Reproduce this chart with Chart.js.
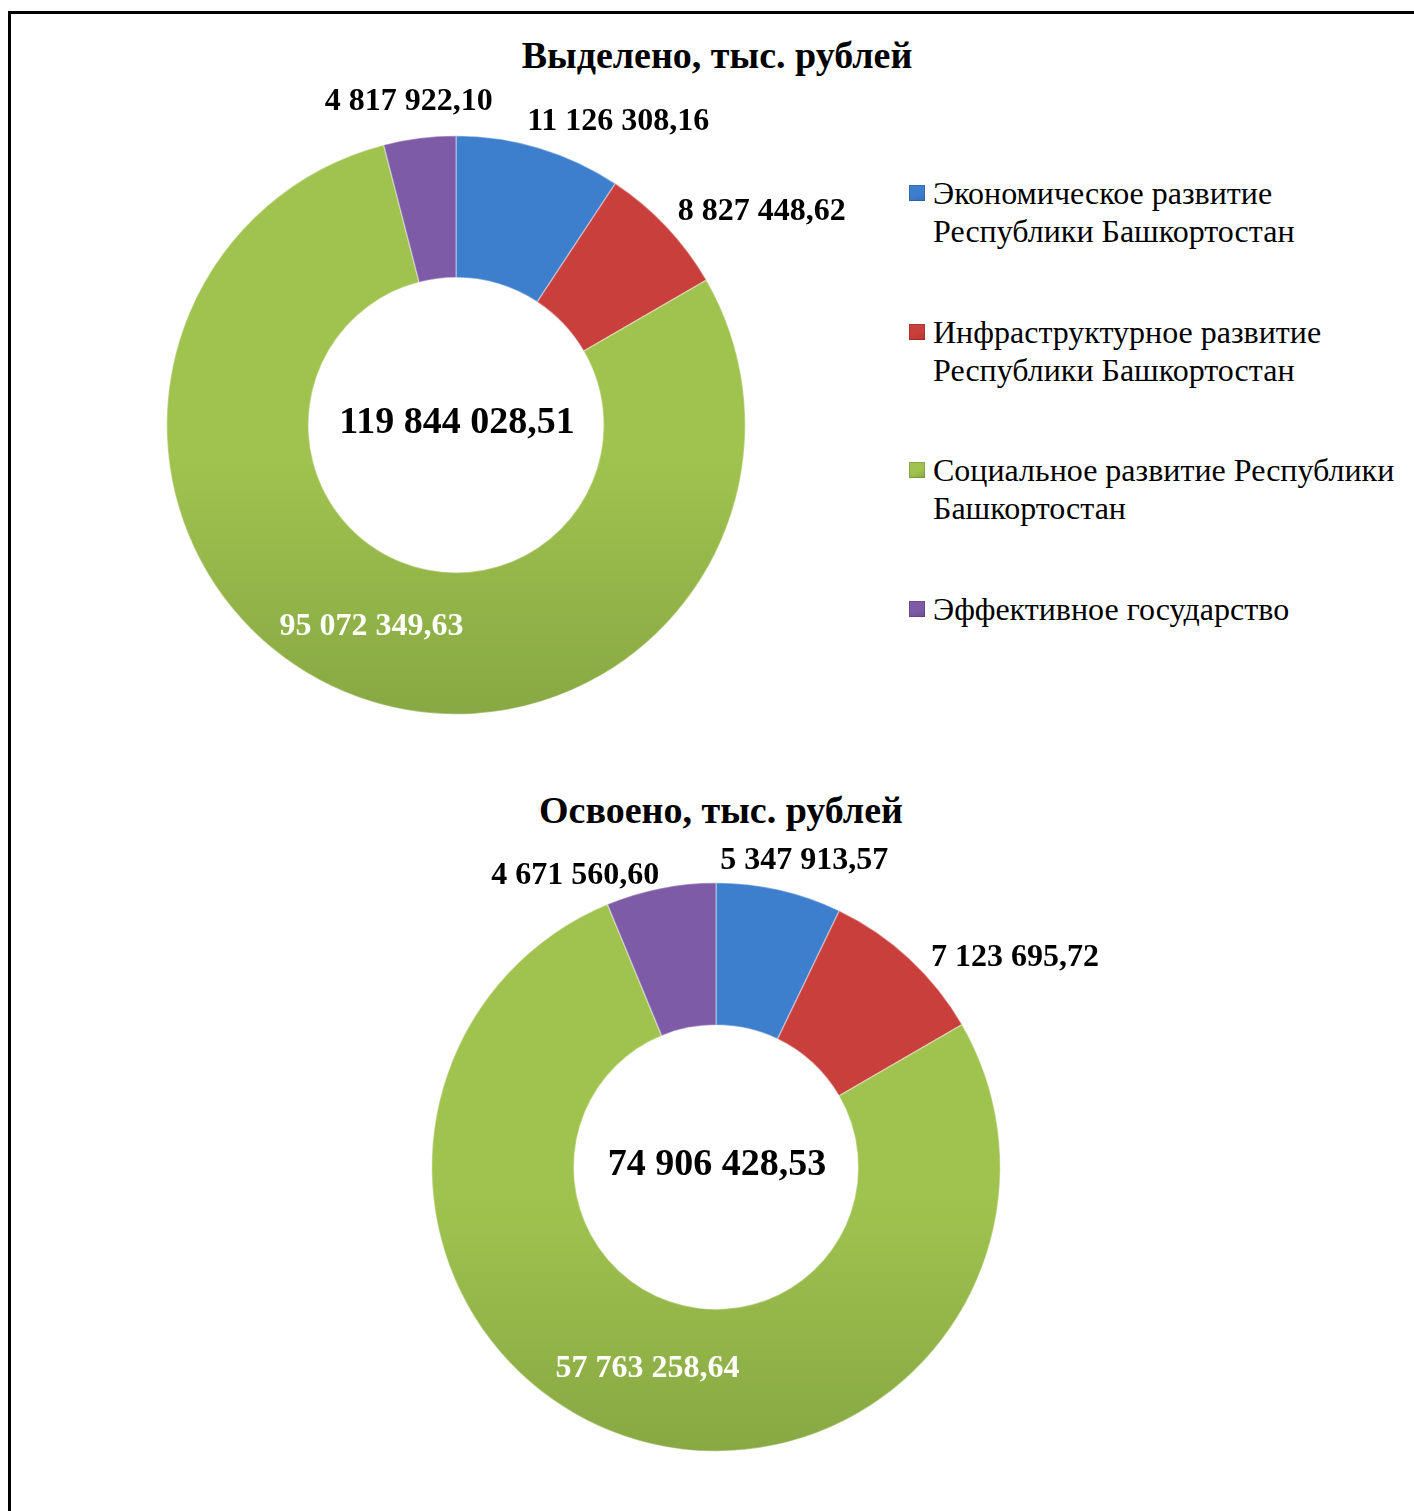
<!DOCTYPE html>
<html>
<head>
<meta charset="utf-8">
<script src="https://cdn.jsdelivr.net/npm/chart.js@4/dist/chart.umd.min.js"></script>
<style>
  html, body { margin: 0; padding: 0; background: #fff; overflow: hidden; }
  body { width: 1414px; height: 1511px; position: relative; font-family: 'Liberation Serif', 'Times New Roman', serif; }
  .frame { position: absolute; left: 8px; top: 11px; width: 1500px; height: 1600px; border: 3px solid #000; }
  .title { position: absolute; width: 600px; text-align: center; font-weight: bold; font-size: 38px; line-height: 40px; color: #000; }
  canvas { position: absolute; }
  .legend { position: absolute; left: 908px; top: 0; width: 506px; }
  .legend-item { position: absolute; left: 0; width: 506px; font-size: 32px; line-height: 38px; color: #000; }
  .legend-item .box { position: absolute; left: 1px; top: 11px; width: 16px; height: 16px; }
  .legend-item .txt { position: absolute; left: 25px; top: 0; width: 478px; }
</style>
</head>
<body>
<div class="frame"></div>
<div class="title" style="left:417px; top:35px;">Выделено, тыс. рублей</div>
<div class="title" style="left:421px; top:790px;">Освоено, тыс. рублей</div>
<canvas id="chart-allocated" width="890" height="730" style="left:10px; top:13px;"></canvas>
<canvas id="chart-spent" width="1150" height="740" style="left:10px; top:760px;"></canvas>
<div class="legend" id="legend"></div>

<script>
// ---- data ----
const categories = [
  'Экономическое развитие Республики Башкортостан',
  'Инфраструктурное развитие Республики Башкортостан',
  'Социальное развитие Республики Башкортостан',
  'Эффективное государство'
];
const allocated = [11126308.16, 8827448.62, 95072349.63, 4817922.10];
const spent = [5347913.57, 7123695.72, 57763258.64, 4671560.60];

// ---- styling ----
const sliceColors = ['#3d7fcd', '#c93f3b', '#a0c34f', '#7e5ba6'];
const sliceColorsDark = ['#3470bb', '#b43531', '#88a843', '#6c4c93'];
const FONT = "'Liberation Serif', 'Times New Roman', serif";

// label nudges, px (Excel "best fit" shifts labels away from each other)
const nudgeAllocated = [[50, -3], [27, 2], [0, 0], [1, -13]];
const nudgeSpent = [[4, -6], [42, 17], [0, 0], [-67, 11]];

const fmt = v => v.toFixed(2).replace('.', ',').replace(/\B(?=(\d{3})+(?!\d))/g, ' ');

const sliceLabels = {
  id: 'sliceLabels',
  afterDatasetsDraw(chart, args, opts) {
    const ctx = chart.ctx;
    const meta = chart.getDatasetMeta(0);
    const data = chart.data.datasets[0].data;
    ctx.save();
    ctx.textAlign = 'center';
    ctx.textBaseline = 'middle';
    ctx.font = 'bold 32px ' + FONT;
    let cx0 = 0, cy0 = 0;
    meta.data.forEach((arc, i) => {
      const p = arc.getProps(['x', 'y', 'startAngle', 'endAngle', 'outerRadius', 'innerRadius'], true);
      cx0 = p.x; cy0 = p.y;
      const mid = (p.startAngle + p.endAngle) / 2;
      const text = fmt(data[i]);
      const n = opts.nudge[i] || [0, 0];
      let tx, ty;
      if (i === opts.inside) {
        const r = (p.outerRadius + p.innerRadius) / 2;
        tx = p.x + Math.cos(mid) * r;
        ty = p.y + Math.sin(mid) * r;
        ctx.fillStyle = '#ffffff';
      } else {
        const w = ctx.measureText(text).width;
        const r = p.outerRadius + 10;
        tx = p.x + Math.cos(mid) * r + Math.cos(mid) * w / 2;
        ty = p.y + Math.sin(mid) * r + Math.sin(mid) * 14;
        ctx.fillStyle = '#000000';
      }
      ctx.fillText(text, tx + n[0], ty + n[1]);
    });
    const total = data.reduce((a, b) => a + b, 0);
    ctx.fillStyle = '#000000';
    ctx.font = 'bold 38px ' + FONT;
    ctx.fillText(fmt(total), cx0 + 1, cy0 - 2);
    ctx.restore();
  }
};

function sliceFill(context) {
  const chart = context.chart;
  const area = chart.chartArea;
  const i = context.dataIndex;
  if (!area) return sliceColors[i];
  const g = chart.ctx.createLinearGradient(0, area.top, 0, area.bottom);
  g.addColorStop(0, sliceColors[i]);
  g.addColorStop(0.55, sliceColors[i]);
  g.addColorStop(1, sliceColorsDark[i]);
  return g;
}

function donut(canvasId, values, padding, cutout, nudge) {
  const ctx = document.getElementById(canvasId).getContext('2d');
  return new Chart(ctx, {
    type: 'doughnut',
    data: {
      labels: categories,
      datasets: [{
        data: values,
        backgroundColor: sliceFill,
        borderColor: 'rgba(255,255,255,0.35)',
        borderWidth: 1.5,
      }]
    },
    options: {
      responsive: false,
      animation: false,
      cutout: cutout,
      layout: { padding: padding },
      plugins: {
        legend: { display: false },
        tooltip: { enabled: false },
        sliceLabels: { nudge: nudge, inside: 2 },
      }
    },
    plugins: [sliceLabels]
  });
}

donut('chart-allocated', allocated, { left: 156, top: 122, right: 154, bottom: 28 }, '51%', nudgeAllocated);
donut('chart-spent', spent, { left: 421, top: 122, right: 159, bottom: 48 }, '50%', nudgeSpent);

// ---- legend ----
const legendTops = [174, 313, 451, 590];
const legend = document.getElementById('legend');
categories.forEach((name, i) => {
  const item = document.createElement('div');
  item.className = 'legend-item';
  item.style.top = legendTops[i] + 'px';
  const box = document.createElement('div');
  box.className = 'box';
  box.style.background = 'linear-gradient(160deg, ' + sliceColors[i] + ' 0%, ' + sliceColors[i] + ' 55%, ' + sliceColorsDark[i] + ' 100%)';
  box.style.boxShadow = 'inset 0 0 0 1px rgba(0,0,0,0.15)';
  const txt = document.createElement('div');
  txt.className = 'txt';
  txt.textContent = name;
  item.appendChild(box);
  item.appendChild(txt);
  legend.appendChild(item);
});
</script>
</body>
</html>
